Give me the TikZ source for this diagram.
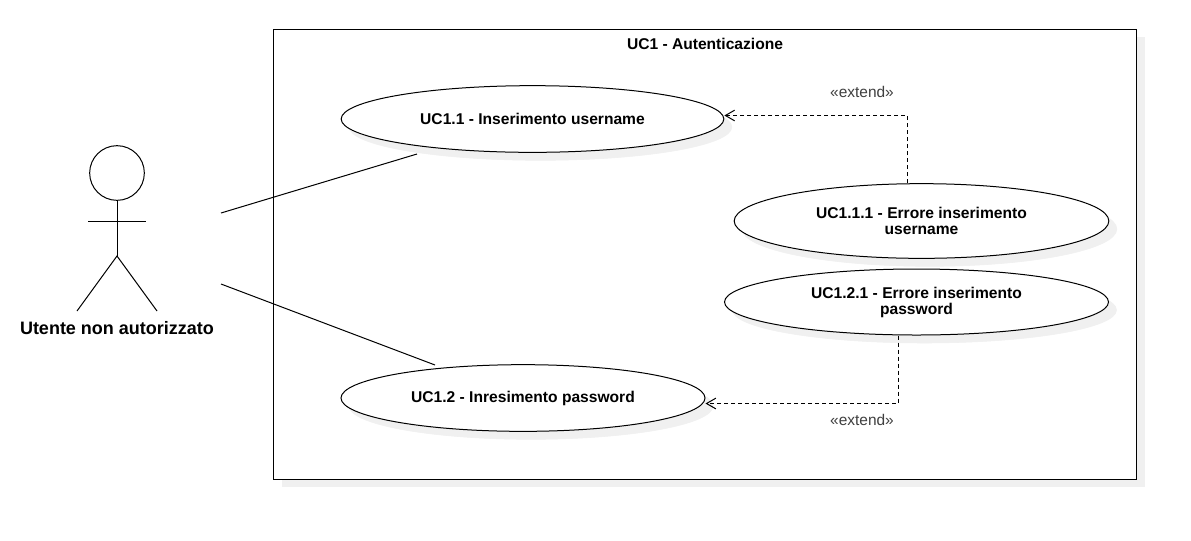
\documentclass[tikz,border=0pt]{standalone}
\usepackage{fontspec}
\setmainfont{Liberation Sans}
\usetikzlibrary{arrows.meta,shapes.geometric}
\definecolor{shadowgray}{RGB}{240,240,240}
\tikzset{
  x=0.75pt,y=-0.75pt,
  usecase/.style={ellipse,draw=black,fill=white,line width=0.75pt,inner sep=0pt,font=\fontsize{11.7pt}{12pt}\selectfont\bfseries,align=center},
  usecaseshadow/.style={ellipse,fill=shadowgray,draw=shadowgray,inner sep=0pt},
  plain/.style={draw=black,line width=0.75pt},
  ext/.style={draw=black,line width=0.75pt,dash pattern=on 3pt off 2.25pt,-{Straight Barb[length=7pt,width=8pt]}},
  lbl/.style={font=\fontsize{11.6pt}{13pt}\selectfont,text=black!75,inner sep=0pt}
}
\begin{document}
\begin{tikzpicture}
\useasboundingbox (0,0) rectangle (1191,540);
\fill[white] (0,0) rectangle (1191,540);
% system box
\fill[shadowgray] (282,37) rectangle (1145,487);
\node[draw=black,fill=white,line width=0.75pt,minimum width=647.25pt,minimum height=337.5pt,inner sep=0pt,anchor=north west] (sys) at (273,29) {};
\node[inner sep=0pt,font=\fontsize{11.7pt}{13pt}\selectfont\bfseries] (title) at (705,43.5) {UC1 - Autenticazione};
% shadows
\foreach \cx/\cy/\w/\h in {540.5/127/287/50,929.5/229/281/56,924.5/310/288/49.5,531/406/273/50}{
  \node[usecaseshadow,minimum width=\w pt,minimum height=\h pt] at (\cx,\cy) {};
}
% use cases
\node[usecase,minimum width=287pt,minimum height=50pt] (uc11) at (532.5,119) {UC1.1 - Inserimento username};
\node[usecase,minimum width=281pt,minimum height=56pt] (uc111) at (921.5,221) {UC1.1.1 - Errore inserimento\\username};
\node[usecase,minimum width=288pt,minimum height=49.5pt] (uc121) at (916.5,302) {UC1.2.1 - Errore inserimento\\password};
\node[usecase,minimum width=273pt,minimum height=50pt] (uc12) at (523,398) {UC1.2 - Inresimento password};
% actor
\node[circle,draw=black,line width=0.75pt,minimum size=41pt,inner sep=0pt] (head) at (117,173) {};
\coordinate (hip) at (117,256);
\coordinate (armL) at (88,221.5);
\coordinate (armR) at (146,221.5);
\coordinate (legL) at (77,311);
\coordinate (legR) at (157,311);
\draw[plain] (head.south) -- (hip);
\draw[plain] (armL) -- (armR);
\draw[plain] (legL) -- (hip) -- (legR);
\node[inner sep=0pt,font=\fontsize{13.5pt}{15pt}\selectfont\bfseries] (actor) at (117,328) {Utente non autorizzato};
% associations
\coordinate (a1) at (221,213);
\coordinate (a1e) at (417,154);
\coordinate (a2) at (221,284);
\coordinate (a2e) at (435,365);
\draw[plain] (a1) -- (a1e);
\draw[plain] (a2) -- (a2e);
% extends
\coordinate (t1) at (907.5,115.5);
\coordinate (t2) at (898,403.5);
\draw[ext] (uc111.north -| t1) -- (t1) -- (uc11.east |- t1);
\draw[ext] (uc121.south -| t2) -- (t2) -- (uc12.east |- t2);
\node[lbl] (e1) at (862,91.5) {«extend»};
\node[lbl] (e2) at (862,420) {«extend»};
\end{tikzpicture}
\end{document}
